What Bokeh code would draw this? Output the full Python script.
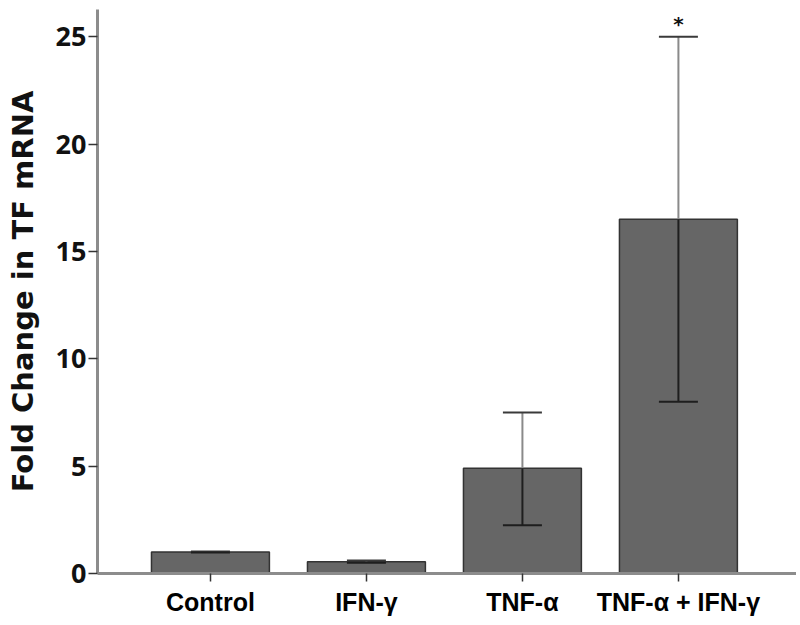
from bokeh.plotting import figure
from bokeh.models import ColumnDataSource, Range1d, FixedTicker
from bokeh.core.properties import value
from bokeh.embed import file_html
from bokeh.resources import INLINE

categories = ["Control", "IFN-γ", "TNF-α", "TNF-α + IFN-γ"]
means = [1.0, 0.55, 4.9, 16.5]
err_low = [0.98, 0.5, 2.25, 8.0]
err_high = [1.02, 0.6, 7.5, 25.0]
significant = [False, False, False, True]
y_ticks = [0, 5, 10, 15, 20, 25]

xs = list(range(len(categories)))
cap_half = 0.125
bar_w = 0.756

src = ColumnDataSource(dict(
    x=xs,
    top=means,
    lo=err_low,
    hi=err_high,
    above_start=[max(m, l) for m, l in zip(means, err_low)],
    inside_end=[min(m, h) for m, h in zip(means, err_high)],
    x0=[x - cap_half for x in xs],
    x1=[x + cap_half for x in xs],
))

p = figure(width=796, height=625, output_backend="svg", toolbar_location=None,
           x_range=Range1d(-0.724, 3.757), y_range=Range1d(0, 26.27),
           min_border_left=97, min_border_right=0, min_border_top=9,
           min_border_bottom=52)
p.outline_line_color = None
p.xgrid.visible = False
p.ygrid.visible = False
p.background_fill_color = "white"

p.vbar(x="x", top="top", bottom=0, width=bar_w, source=src,
       fill_color="#666666", line_color="#333333", line_width=1.5)

# whiskers: part above bar (gray), part inside bar (dark)
p.segment(x0="x", y0="above_start", x1="x", y1="hi", source=src,
          line_color="#8a8a8a", line_width=2)
p.segment(x0="x", y0="lo", x1="x", y1="inside_end", source=src,
          line_color="#1e1e1e", line_width=2)
p.segment(x0="x0", y0="hi", x1="x1", y1="hi", source=src,
          line_color="#3a3a3a", line_width=2)
p.segment(x0="x0", y0="lo", x1="x1", y1="lo", source=src,
          line_color="#1e1e1e", line_width=2)

sig_x = [x for x, s in zip(xs, significant) if s]
sig_y = [h for h, s in zip(err_high, significant) if s]
p.text(x=sig_x, y=sig_y, text=["*"] * len(sig_x), text_align="center",
       text_baseline="alphabetic", y_offset=-13, text_font_size="20px",
       text_font=value("DejaVu Sans"), text_font_style="bold", text_color="#111111")

# axes
p.yaxis.ticker = FixedTicker(ticks=y_ticks)
p.yaxis.axis_label = "Fold Change in TF mRNA"
p.yaxis.axis_label_text_font = "DejaVu Sans"
p.yaxis.axis_label_text_font_style = "bold"
p.yaxis.axis_label_text_font_size = "29px"
p.yaxis.axis_label_text_color = "#111111"
p.yaxis.axis_label_standoff = 13
p.yaxis.major_label_text_font = "Open Sans"
p.yaxis.major_label_text_font_style = "bold"
p.yaxis.major_label_text_font_size = "27px"
p.yaxis.major_label_text_color = "#111111"
p.yaxis.major_label_standoff = 2
p.yaxis.major_tick_out = 9
p.yaxis.major_tick_in = 0
p.yaxis.minor_tick_line_color = None
p.yaxis.major_tick_line_color = "#333333"
p.yaxis.major_tick_line_width = 1.5
p.yaxis.axis_line_color = "#8c8c8c"
p.yaxis.axis_line_width = 3

p.xaxis.ticker = FixedTicker(ticks=xs)
p.xaxis.major_label_overrides = {x: c for x, c in zip(xs, categories)}
p.xaxis.major_label_text_font = "Liberation Sans"
p.xaxis.major_label_text_font_style = "bold"
p.xaxis.major_label_text_font_size = "25px"
p.xaxis.major_label_text_color = "#000000"
p.xaxis.major_label_standoff = 6
p.xaxis.major_tick_out = 8
p.xaxis.major_tick_in = 0
p.xaxis.minor_tick_line_color = None
p.xaxis.major_tick_line_color = "#333333"
p.xaxis.major_tick_line_width = 1.5
p.xaxis.axis_line_color = "#8c8c8c"
p.xaxis.axis_line_width = 3

open("out.html", "w").write(file_html(p, INLINE))
